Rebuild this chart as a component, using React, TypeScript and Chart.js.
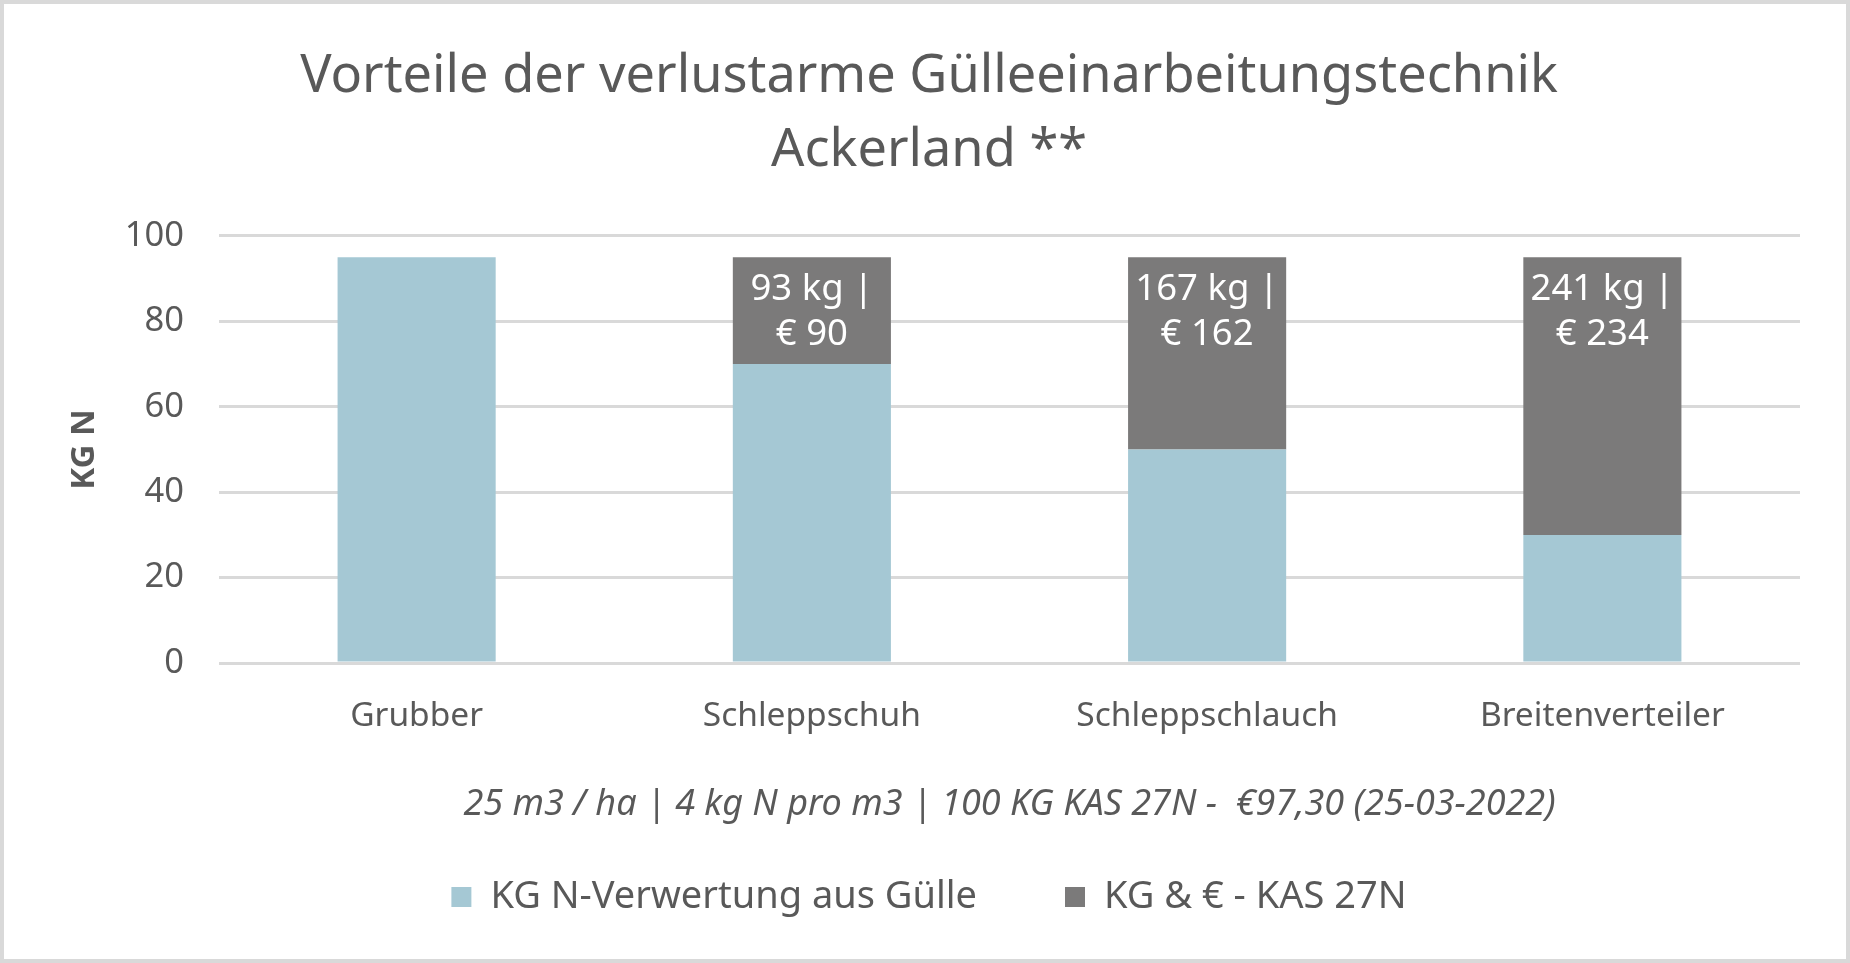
import React, { useEffect, useRef } from 'react';
import { Chart, registerables } from 'chart.js';

Chart.register(...registerables);

const categories = ['Grubber', 'Schleppschuh', 'Schleppschlauch', 'Breitenverteiler'];
const guelleValues = [95, 70, 50, 30];
const kasValues: (number | null)[] = [null, 25, 45, 65];
const kasKgLabels: (number | null)[] = [null, 93, 167, 241];
const kasEuroLabels: (number | null)[] = [null, 90, 162, 234];
const seriesNames = ['KG N-Verwertung aus Gülle', 'KG & € - KAS 27N'];
const titleLines = ['Vorteile der verlustarme Gülleeinarbeitungstechnik', 'Ackerland **'];
const xAxisTitle = '25 m3 / ha | 4 kg N pro m3 | 100 KG KAS 27N -  €97,30 (25-03-2022)';
const yAxisTitle = 'KG N';
const yMin = 0;
const yMax = 100;
const yStep = 20;

const FONT = '"Noto Sans", "Open Sans", sans-serif';
const TEXT = '#595959';
const BLUE = '#A5C8D4';
const GRAY = '#7B7A7A';
const GRID = '#D9D9D9';

const barLabelPlugin = {
  id: 'barLabels',
  afterDatasetsDraw(chart: any) {
    const meta = chart.getDatasetMeta(1);
    const ctx = chart.ctx;
    ctx.save();
    ctx.fillStyle = '#FFFFFF';
    ctx.font = `36.5px ${FONT}`;
    ctx.textAlign = 'center';
    ctx.textBaseline = 'alphabetic';
    meta.data.forEach((bar: any, i: number) => {
      const kg = kasKgLabels[i];
      const eur = kasEuroLabels[i];
      if (kg == null || eur == null) return;
      const { x, y } = bar.getProps(['x', 'y'], true);
      ctx.fillText(`${kg} kg |`, x, y + 43);
      ctx.fillText(`€ ${eur}`, x, y + 88);
    });
    ctx.restore();
  },
};

export default function App() {
  const canvasRef = useRef<HTMLCanvasElement | null>(null);

  useEffect(() => {
    document.body.style.margin = '0';
    const canvas = canvasRef.current;
    if (!canvas) return;
    const chart = new Chart(canvas, {
      type: 'bar',
      data: {
        labels: categories,
        datasets: [
          {
            label: seriesNames[0],
            data: guelleValues,
            backgroundColor: BLUE,
            borderWidth: 0,
            categoryPercentage: 1,
            barPercentage: 0.4,
          },
          {
            label: seriesNames[1],
            data: kasValues,
            backgroundColor: GRAY,
            borderWidth: 0,
            categoryPercentage: 1,
            barPercentage: 0.4,
          },
        ],
      },
      options: {
        responsive: false,
        animation: false,
        devicePixelRatio: 1,
        layout: { padding: { top: 0, left: 54, right: 46, bottom: 33 } },
        plugins: {
          title: {
            display: true,
            text: titleLines,
            color: TEXT,
            font: { family: FONT, size: 52.3, weight: 'normal', lineHeight: 1.405 },
            padding: { top: 36.5, bottom: 48.5 },
          },
          legend: {
            display: true,
            position: 'bottom',
            labels: {
              color: TEXT,
              font: { family: FONT, size: 38 },
              boxWidth: 20,
              boxHeight: 20,
              padding: 88,
            },
          },
          tooltip: { enabled: false },
        },
        scales: {
          x: {
            stacked: true,
            grid: { display: false },
            border: { display: false },
            ticks: {
              color: TEXT,
              font: { family: FONT, size: 33.5 },
              padding: 25,
              maxRotation: 0,
              autoSkip: false,
            },
            title: {
              display: true,
              text: xAxisTitle,
              color: TEXT,
              font: { family: FONT, size: 36, style: 'italic' },
              padding: { top: 0, bottom: -36 },
            },
            afterFit: (scale: any) => {
              scale.height = 127;
            },
          },
          y: {
            stacked: true,
            min: yMin,
            max: yMax,
            grid: { color: GRID, lineWidth: 3, drawTicks: false },
            border: { display: false },
            ticks: {
              stepSize: yStep,
              color: TEXT,
              font: { family: FONT, size: 34.5 },
              padding: 35,
            },
            title: {
              display: true,
              text: yAxisTitle,
              color: TEXT,
              font: { family: FONT, size: 33, weight: 'bold' },
              padding: { top: 7, bottom: 0 },
            },
            afterFit: (scale: any) => {
              scale.width = 161;
            },
          },
        },
      },
      plugins: [barLabelPlugin],
    });
    return () => {
      chart.destroy();
    };
  }, []);

  return (
    <div
      style={{
        width: 1850,
        height: 963,
        boxSizing: 'border-box',
        border: '4px solid #D9D9D9',
        background: '#FFFFFF',
        overflow: 'hidden',
      }}
    >
      <canvas ref={canvasRef} width={1842} height={955} style={{ display: 'block' }} />
    </div>
  );
}
